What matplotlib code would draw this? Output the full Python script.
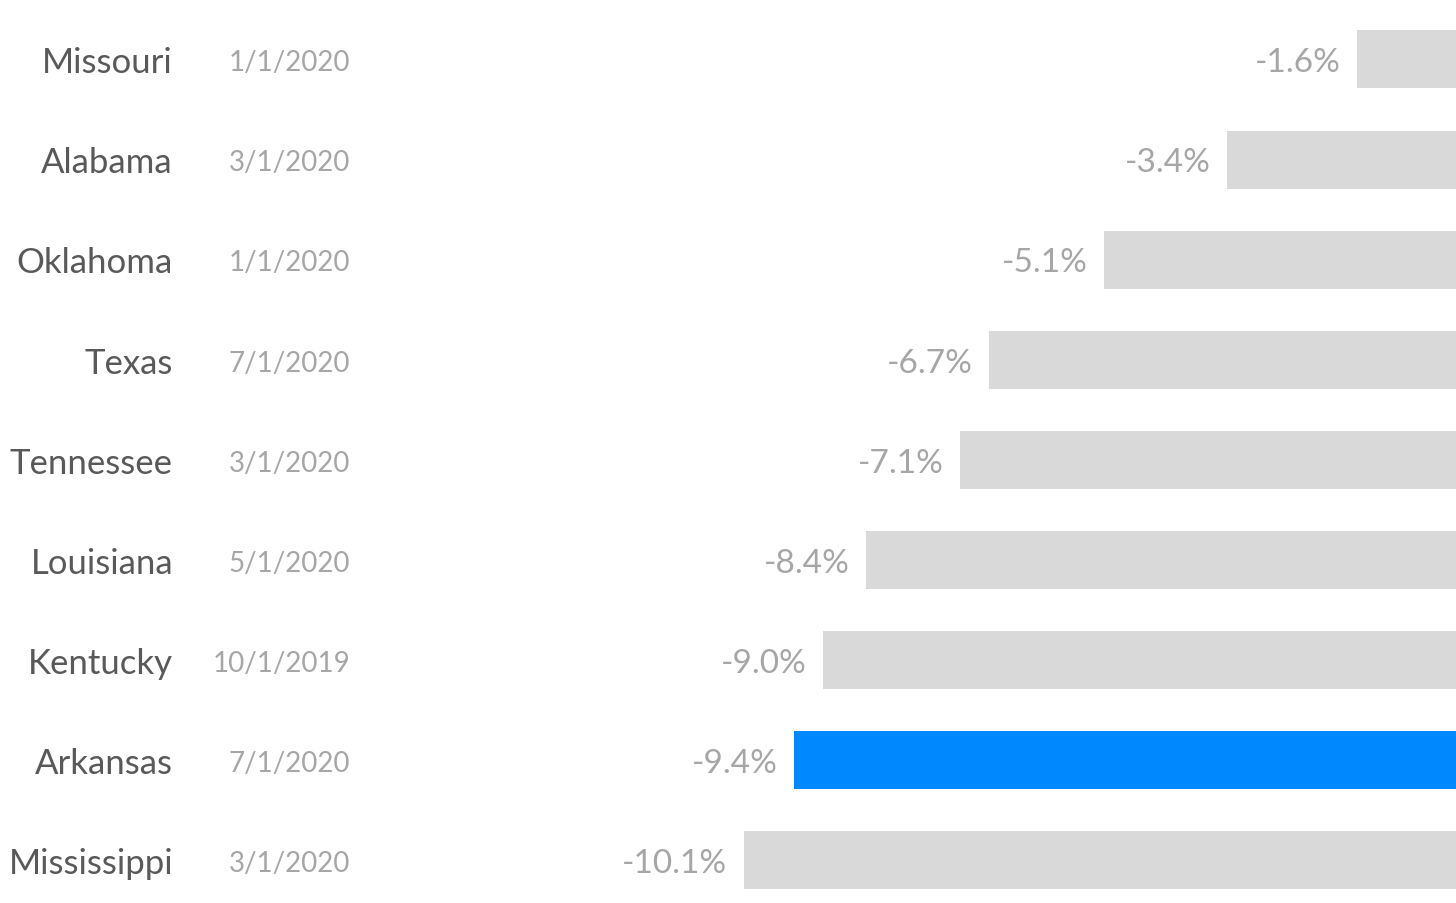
import matplotlib.pyplot as plt

states = ['Missouri', 'Alabama', 'Oklahoma', 'Texas', 'Tennessee',
          'Louisiana', 'Kentucky', 'Arkansas', 'Mississippi']
dates = ['1/1/2020', '3/1/2020', '1/1/2020', '7/1/2020', '3/1/2020',
         '5/1/2020', '10/1/2019', '7/1/2020', '3/1/2020']
changes = [-1.6, -3.4, -5.1, -6.7, -7.1, -8.4, -9.0, -9.4, -10.1]
highlight = 'Arkansas'

plt.rcParams['font.family'] = ['Lato', 'DejaVu Sans']

fig = plt.figure(figsize=(14.56, 9.04), dpi=100)
ax = fig.add_axes([0, 0, 1, 1])

y = list(range(len(states)))
colors = ['#0088ff' if s == highlight else '#d9d9d9' for s in states]
ax.barh(y, changes, height=0.58, color=colors)

ax.set_xlim(-20.4, -0.23)
ax.set_ylim(8.427, -0.604)
ax.axis('off')

trans = ax.get_yaxis_transform()
for i, (s, d, v) in enumerate(zip(states, dates, changes)):
    ax.annotate(s, (173 / 1456, i), xycoords=trans, xytext=(0, -2),
                textcoords='offset points', ha='right', va='center',
                fontsize=25, color='#595959')
    ax.annotate(d, (350 / 1456, i), xycoords=trans, xytext=(0, -2),
                textcoords='offset points', ha='right', va='center',
                fontsize=20, color='#a6a6a6')
    ax.annotate(f'{v:.1f}%', (v, i), xytext=(-12, -2), textcoords='offset points',
                ha='right', va='center', fontsize=24, color='#a6a6a6')

fig.savefig('out.png', dpi=100)
